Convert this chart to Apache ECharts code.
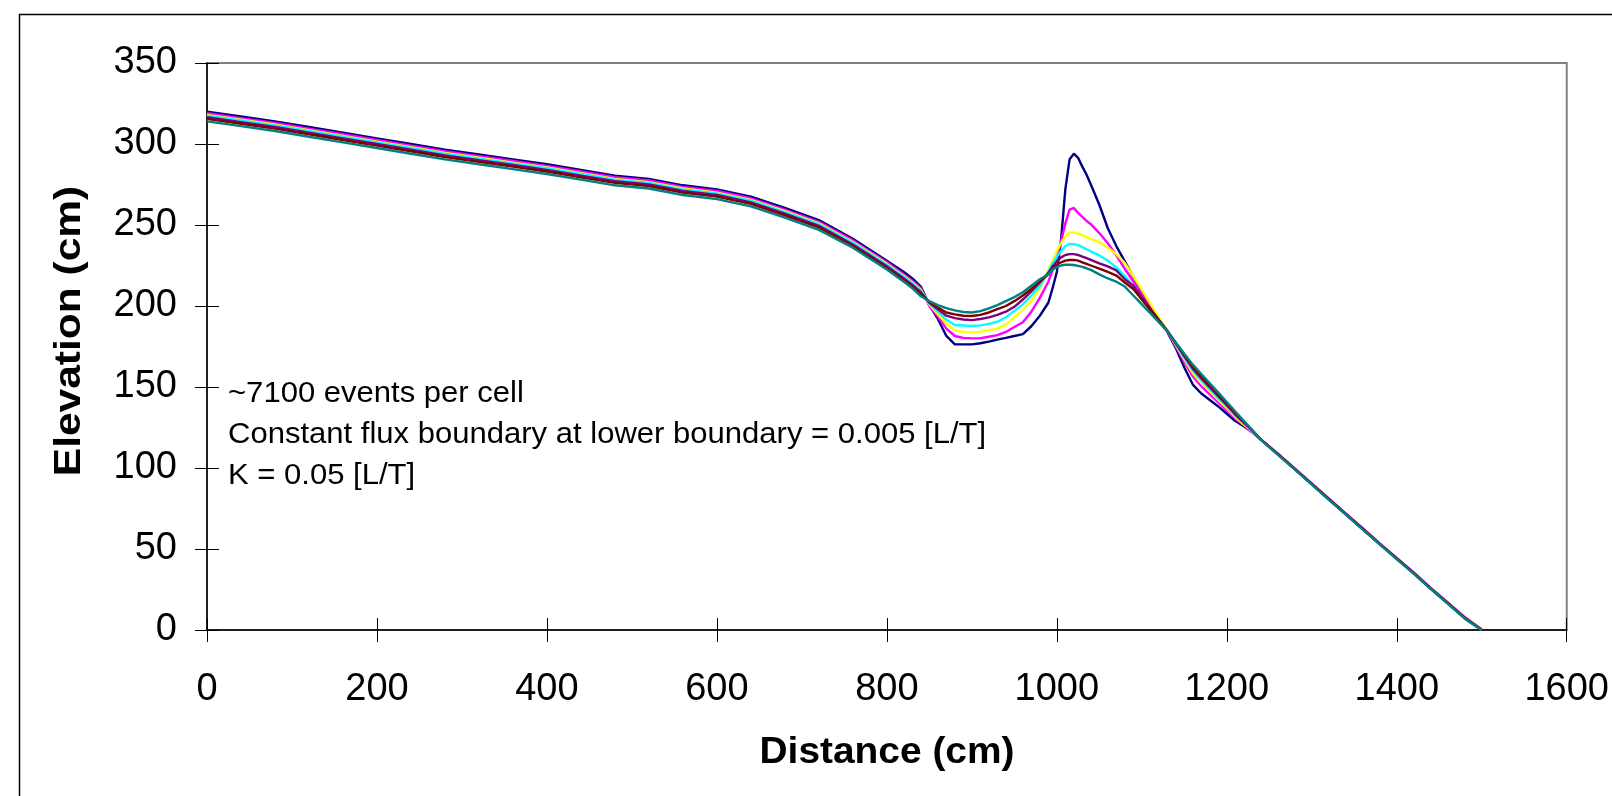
<!DOCTYPE html>
<html>
<head>
<meta charset="utf-8">
<title>Elevation profile</title>
<script src="https://cdn.jsdelivr.net/npm/echarts@6/dist/echarts.min.js"></script>
<style>
  html, body { margin: 0; padding: 0; background: #fff; }
  #main { width: 1612px; height: 796px; }
</style>
</head>
<body>
<div id="main"></div>
<script>
// distance along the slope (cm)
const distance = [0, 40, 80, 120, 160, 200, 240, 280, 320, 360, 400, 440, 480, 520, 560, 600, 640, 680, 720, 760, 800,
  820, 830, 840,
  850, 860, 870, 880, 890, 900, 910, 920, 930, 940, 950, 960, 970, 980, 990,
  995, 1000, 1005, 1010, 1015, 1020, 1025, 1030, 1035, 1040,
  1050, 1060, 1070, 1080, 1090, 1100, 1110, 1120, 1130, 1140, 1150, 1160, 1170, 1180, 1190, 1200, 1210, 1220, 1230, 1240,
  1260, 1280, 1300, 1320, 1340, 1360, 1380, 1400, 1420, 1440, 1460, 1480, 1500];

// elevation (cm), one array per profile
const elevNavy = [320, 317, 314, 310.5, 307, 303.5, 300, 296.5, 293.5, 290.5, 287.5, 284, 280.5, 278.5, 274.5, 272, 267.5, 260.5, 253, 241.5, 228,
  221, 217, 212,
  200.5, 192, 181.5, 176.3, 176.3, 176.3, 177, 178, 179.2, 180.3, 181.5, 182.6, 187.5, 194, 202,
  211, 221, 241, 272, 290.5, 294, 291.5, 286, 281, 275,
  262.5, 248, 237, 227.5, 218, 209, 200, 192, 184, 174, 162, 151.5, 146, 142, 138, 133.5, 129, 125.8, 122, 117.5,
  108.5, 99.3, 90, 80.7, 71.5, 62.3, 53, 44, 35, 25.5, 16.5, 7.3, 0];
const elevMagenta = [319, 316, 313, 309.5, 306, 302.5, 299, 295.5, 292.5, 289.5, 286.5, 283, 279.5, 277.5, 273.5, 271, 266.5, 259.5, 252, 240.5, 227,
  219.5, 215.5, 211,
  200, 193.5, 186, 181.5, 180.3, 180, 180.2, 181, 182, 184, 187, 190, 196.5, 205, 215,
  222, 230, 240, 251, 259.5, 260.5, 257.5, 255, 252.5, 250.5,
  245, 238.7, 231.3, 223, 215, 207, 199.5, 192, 184.5, 175, 165.5, 156.5, 150.5, 145.5, 140.5, 135.5, 130.5, 126.5, 122, 117.5,
  109, 99.8, 90.5, 81.2, 72, 62.8, 53.5, 44.5, 35.5, 26, 17, 8, 0.5];
const elevYellow = [318, 315, 312, 308.5, 305, 301.5, 298, 294.5, 291.5, 288.5, 285.5, 282, 278.5, 276.5, 272.5, 270, 265.5, 258.5, 251, 239.5, 226,
  218.5, 214.5, 210,
  201, 195, 189, 185, 184, 183.8, 184, 185, 186, 188.5, 193, 197.5, 203, 211, 222,
  228, 234, 239, 243, 245.2, 245.3, 244.8, 243.8, 242.5, 241.5,
  239.5, 236, 232, 226.5, 218.5, 210, 201.5, 193, 185, 176, 167, 158.5, 152.5, 147.5, 142, 137, 131.5, 127, 122.5, 117.5,
  108.5, 99.3, 90, 80.7, 71.5, 62.3, 53, 44, 35, 25.5, 16.5, 7.5, 0];
const elevCyan = [317.5, 314.5, 311.5, 308, 304.5, 301, 297.5, 294, 291, 288, 285, 281.5, 278, 276, 272, 269.5, 265, 258, 250.5, 239, 225.5,
  218, 214, 209.5,
  201.5, 196.5, 191.5, 188.3, 188, 187.7, 188, 189, 190.3, 193, 197, 201, 206.5, 212.5, 221,
  226.5, 230.5, 234, 237, 238.2, 238.2, 237.6, 236.3, 235, 233.7,
  231.2, 228, 223.8, 218.5, 212, 204, 197, 191, 184.5, 176.5, 168, 160, 154, 148.5, 143, 137.8, 132.3, 127.5, 122.8, 117.5,
  108.5, 99.3, 90, 80.7, 71.5, 62.3, 53, 44, 35, 25.5, 16.5, 7.5, 0];
const elevPurple = [316.5, 313.5, 310.5, 307, 303.5, 300, 296.5, 293, 290, 287, 284, 280.5, 277, 275, 271, 268.5, 264, 257, 249.5, 238, 224.5,
  217, 213, 208.5,
  202, 198, 194, 192.5, 191.7, 191.3, 192, 193, 194.5, 196.5, 199.5, 204, 209, 214.5, 220.5,
  224.5, 227.5, 230, 231.5, 232, 232, 231.5, 230.5, 229.5, 228.5,
  226.3, 224.5, 222, 216.5, 212.5, 205.5, 198.5, 191.5, 184.8, 177, 169, 161.3, 155.3, 149.8, 144.3, 138.8, 133, 128, 123, 117.7,
  108.7, 99.5, 90.2, 80.9, 71.7, 62.5, 53.2, 44.2, 35.2, 25.7, 16.7, 7.6, 0];
const elevMaroon = [315.5, 312.5, 309.5, 306, 302.5, 299, 295.5, 292, 289, 286, 283, 279.5, 276, 274, 270, 267.5, 263, 256, 248.5, 237, 223.5,
  216, 212, 207.5,
  202.5, 199, 196, 194.8, 194, 193.8, 194.5, 196, 198, 200, 203, 206.5, 210.5, 215, 219.5,
  223.5, 225.5, 227, 228, 228.4, 228.5, 228, 227, 226, 225,
  223, 221, 218.8, 214.5, 210.5, 204, 197.5, 191, 184.5, 177.2, 169.8, 162.5, 156.5, 151, 145.3, 139.7, 134, 128.5, 123.2, 117.7,
  108.5, 99.3, 90, 80.7, 71.5, 62.3, 53, 44, 35, 25.5, 16.5, 7.3, 0];
const elevTeal = [314, 311, 308, 304.5, 301, 297.5, 294, 290.5, 287.5, 284.5, 281.5, 278, 274.5, 272.5, 268.5, 266, 261.5, 254.5, 247, 236, 222.5,
  215, 211, 206,
  203, 200.5, 198.7, 197.3, 196.3, 196, 196.8, 198.5, 200.5, 203, 205.5, 208.5, 212.5, 216.5, 219.5,
  222.5, 224, 225, 225.5, 225.5, 225.3, 224.8, 224.2, 223.3, 222.3,
  219.5, 217, 215, 212, 206.5, 201, 195.5, 190, 184.5, 177.5, 170.5, 163.8, 158, 152.3, 146.5, 140.7, 134.9, 129.1, 123.4, 117.5,
  108.3, 99.1, 89.8, 80.5, 71.3, 62, 52.8, 43.8, 34.8, 25.3, 16.3, 7, 0];

const profiles = [
  { name: 'Series1', color: '#000080', values: elevNavy },
  { name: 'Series2', color: '#FF00FF', values: elevMagenta },
  { name: 'Series3', color: '#FFFF00', values: elevYellow },
  { name: 'Series4', color: '#00FFFF', values: elevCyan },
  { name: 'Series5', color: '#800080', values: elevPurple },
  { name: 'Series6', color: '#800000', values: elevMaroon },
  { name: 'Series7', color: '#008080', values: elevTeal }
];

const noteLines = [
  '~7100 events per cell',
  'Constant flux boundary at lower boundary = 0.005 [L/T]',
  'K = 0.05 [L/T]'
];

const font = 'Liberation Sans, Arial, sans-serif';

let myChart = echarts.init(document.getElementById('main'));

let option = {
  animation: false,
  backgroundColor: '#fff',
  grid: {
    left: 207, right: 39, top: 63, bottom: 166,
    show: true, borderColor: '#808080', borderWidth: 2
  },
  xAxis: [
    {
      type: 'value', min: 0, max: 1600, interval: 200,
      axisLine: { lineStyle: { color: '#000', width: 1.5 } },
      axisTick: { length: 12, lineStyle: { color: '#000', width: 1 } },
      axisLabel: { color: '#000', fontSize: 38, fontFamily: font, margin: 41, formatter: v => String(v) },
      splitLine: { show: false }
    },
    {
      type: 'value', min: 0, max: 1600, interval: 200, position: 'bottom',
      axisLine: { show: false },
      axisTick: { inside: true, length: 12, lineStyle: { color: '#000', width: 1 } },
      axisLabel: { show: false },
      splitLine: { show: false }
    }
  ],
  yAxis: [
    {
      type: 'value', min: 0, max: 350, interval: 50,
      axisLine: { show: true, lineStyle: { color: '#000', width: 1.5 } },
      axisTick: { show: true, length: 12, lineStyle: { color: '#000', width: 1 } },
      axisLabel: { color: '#000', fontSize: 38, fontFamily: font, margin: 30, formatter: v => String(v) },
      splitLine: { show: false }
    },
    {
      type: 'value', min: 0, max: 350, interval: 50, position: 'left',
      axisLine: { show: false },
      axisTick: { show: true, inside: true, length: 12, lineStyle: { color: '#000', width: 1 } },
      axisLabel: { show: false },
      splitLine: { show: false }
    }
  ],
  graphic: [
    {
      type: 'rect', left: 17, top: 12, silent: true,
      shape: { x: 0.5, y: 0.5, width: 1640, height: 820 },
      style: { fill: 'none', stroke: '#000', lineWidth: 1.5 }
    },
    {
      type: 'text', x: 887, y: 753,
      style: { text: 'Distance (cm)', fontSize: 36, fontWeight: 'bold', fontFamily: font, fill: '#000', textAlign: 'center', textVerticalAlign: 'middle' },
      scaleX: 1.08
    },
    {
      type: 'text', x: 70, y: 331, rotation: Math.PI / 2,
      style: { text: 'Elevation (cm)', fontSize: 36, fontWeight: 'bold', fontFamily: font, fill: '#000', textAlign: 'center', textVerticalAlign: 'middle' },
      scaleX: 1.18
    }
  ].concat(noteLines.map((t, i) => ({
    type: 'text', x: 228, y: 394 + i * 41,
    style: { text: t, fontSize: 29, fontFamily: font, fill: '#000', textAlign: 'left', textVerticalAlign: 'middle' },
    scaleX: 1.07
  }))),
  series: profiles.map(p => ({
    name: p.name,
    type: 'line',
    xAxisIndex: 0,
    yAxisIndex: 0,
    symbol: 'none',
    lineStyle: { color: p.color, width: 2.4 },
    itemStyle: { color: p.color },
    data: distance.map((d, i) => [d, p.values[i]])
  }))
};

myChart.setOption(option);
</script>
</body>
</html>
